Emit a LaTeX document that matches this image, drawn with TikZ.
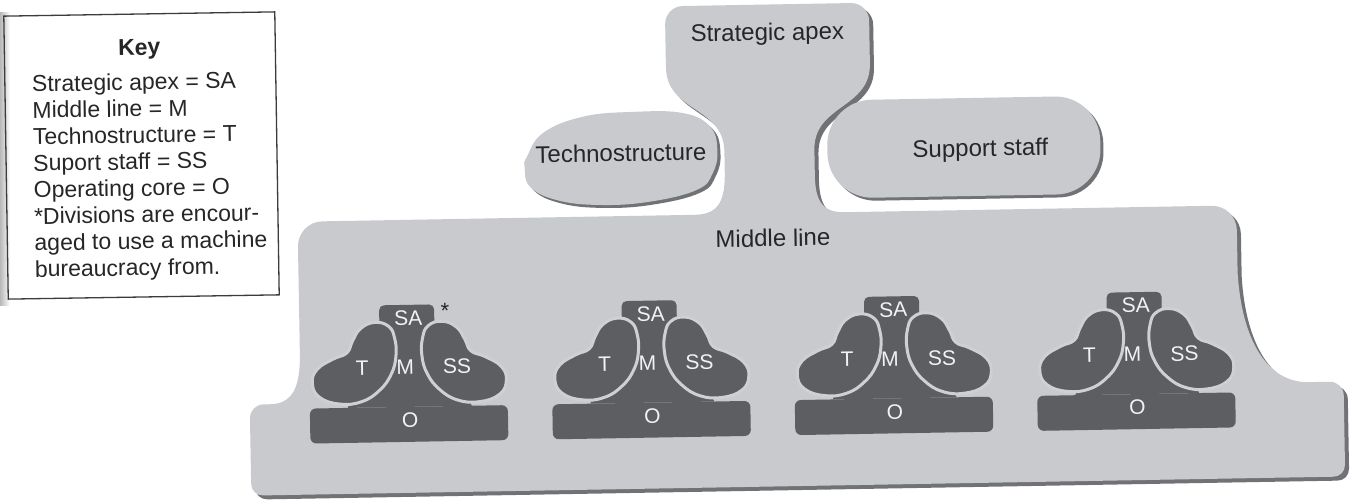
\documentclass[tikz,border=0pt]{standalone}
\usepackage{fontspec}
\setmainfont{Liberation Sans}

\definecolor{paneface}{RGB}{200,202,206}
\definecolor{paneshade}{RGB}{112,114,118}
\definecolor{unitface}{RGB}{92,94,98}
\definecolor{unitgap}{RGB}{206,208,211}
\definecolor{inkdark}{RGB}{38,38,40}
\definecolor{inklight}{RGB}{242,242,242}
\definecolor{keyframe}{RGB}{60,60,60}

\tikzset{
  paneltext/.style={font=\fontsize{24}{28}\selectfont, text=inkdark, inner sep=0pt, anchor=base},
  unitlabel/.style={font=\fontsize{21}{25}\selectfont, text=inklight, inner sep=0pt, anchor=base},
  keyline/.style={font=\fontsize{23}{26.5}\selectfont, text=inkdark, inner sep=0pt, anchor=base west},
  keyhead/.style={font=\fontsize{23}{26.5}\selectfont\bfseries, text=inkdark, inner sep=0pt, anchor=base},
  division/.pic={
    % middle trunk, strategic apex cap and operating core base
    \fill[unitface] (-24,-96) -- (24,-96) -- (62,-13) -- (-62,-13) -- cycle;
    \fill[unitface, rounded corners=5] (-29,-115) rectangle (26,-88);
    \fill[unitface, rounded corners=6] (-100,-13) rectangle (98,22);
    % technostructure (left) and support staff (right) lobes
    \foreach \side in {1,-1}{
      \filldraw[fill=unitface, draw=unitgap, line width=3, xscale=\side]
        plot[smooth cycle, tension=0.75] coordinates {
          (14,-82) (20,-94) (34,-98) (48,-92) (56,-80) (62,-68) (76,-62)
          (92,-52) (97,-38) (90,-24) (70,-17) (48,-19) (30,-30) (18,-46) (13,-64)};
    }
    \node[unitlabel] (-sa) at (0,-94.5) {SA};
    \node[unitlabel] (-t)  at (-47,-45.5) {T};
    \node[unitlabel] (-m)  at (-4,-45.5) {M};
    \node[unitlabel] (-ss) at (48,-45.5) {SS};
    \node[unitlabel] (-o)  at (0,7.5) {O};
  }
}

\begin{document}
\begin{tikzpicture}[x=1pt,y=-1pt]
\useasboundingbox (0,0) rectangle (1356,501);
\fill[white] (0,0) rectangle (1356,501);

% page gutter shadow on the left margin
\shade[left color=black!28, right color=white] (0,12) rectangle (10,305);

% ---------------- key ----------------
\begin{scope}[rotate around={0.9:(141,155)}, transform shape]
  \draw[keyframe, line width=1.3] (6,14) rectangle (277,297);
  \node[keyhead] (keytitle) at (141,55) {Key};
  \foreach \t [count=\i] in {Strategic apex = SA, Middle line = M,
      Technostructure = T, Suport staff = SS, Operating core = O,
      *Divisions are encour-, aged to use a machine, bureaucracy from.} {
    \node[keyline] (key\i) at (33,{63.5+26.5*\i}) {\t};
  }
\end{scope}

% ---------------- organisation ----------------
\begin{scope}[rotate around={1:(800,300)}, transform shape]
  % strategic apex joined by its neck to the middle line
  \foreach \d/\c in {4/paneshade, 0/paneface} {
    \fill[fill=\c, shift={(\d,\d)}]
      (688,4) -- (856,4)
      .. controls (866,4) and (874,12) .. (874,22)
      -- (874,65)
      .. controls (874,110) and (817,105) .. (817,150)
      -- (817,175)
      .. controls (817,200) and (823,213) .. (846,213)
      -- (1213,213)
      .. controls (1227,213) and (1238,224) .. (1238,238)
      -- (1238,280)
      .. controls (1241,350) and (1267,391) .. (1307,391)
      -- (1328,391)
      .. controls (1336,391) and (1342,397) .. (1342,405)
      -- (1342,474)
      .. controls (1342,481) and (1337,486) .. (1330,486)
      -- (260,486)
      .. controls (253,486) and (248,481) .. (248,474)
      -- (248,409)
      .. controls (248,401) and (254,395) .. (262,395)
      -- (268,395)
      .. controls (290,395) and (299,380) .. (299,345)
      -- (299,238)
      .. controls (299,224) and (310,213) .. (324,213)
      -- (696,213)
      .. controls (720,213) and (727,200) .. (727,170)
      -- (727,150)
      .. controls (727,105) and (670,110) .. (670,65)
      -- (670,22)
      .. controls (670,12) and (678,4) .. (688,4)
      -- cycle;
  }
  % technostructure
  \foreach \d/\c in {3/paneshade, 0/paneface} {
    \fill[fill=\c, shift={(\d,\d)}]
      plot[smooth cycle, tension=0.7] coordinates {
        (529.5,152) (546,128.5) (586,113) (636,109) (686,111) (713,125)
        (720,148.5) (715,171.5) (699,188) (652,199) (602,201.5) (559,196)
        (532,182) (527,162)};
  }
  % support staff
  \foreach \d/\c in {3/paneshade, 0/paneface} {
    \fill[fill=\c, shift={(\d,\d)}, rounded corners=45] (830,101) rectangle (1103,199);
  }

  \node[paneltext] (apex)   at (772,40)    {Strategic apex};
  \node[paneltext] (techno) at (623.5,158.5) {Technostructure};
  \node[paneltext] (supp)   at (983,159.5) {Support staff};
  \node[paneltext] (midl)   at (774,246)   {Middle line};

  % the four divisions
  \pic (div1) at (408,413)   {division};
  \pic (div2) at (650.5,413) {division};
  \pic (div3) at (893,413)   {division};
  \pic (div4) at (1135.5,413){division};

  \node[font=\fontsize{22}{26}\selectfont, text=inkdark, inner sep=0pt, anchor=base]
    (divmark) at (445,312) {*};
\end{scope}
\end{tikzpicture}
\end{document}
